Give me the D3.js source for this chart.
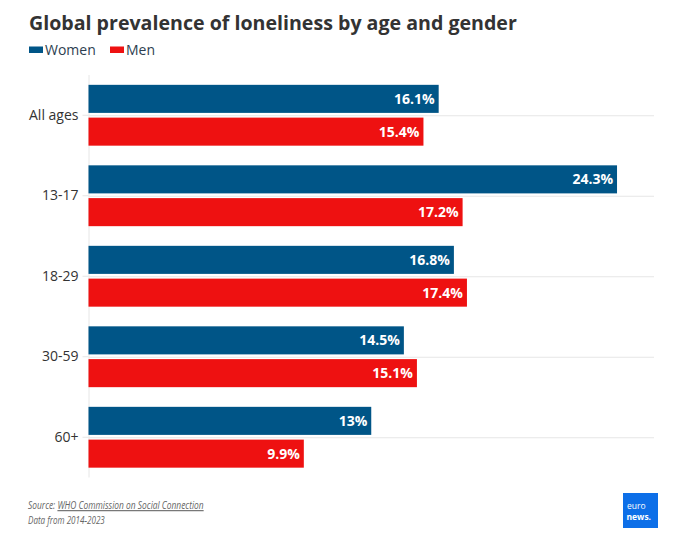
<!DOCTYPE html>
<html><head><meta charset="utf-8">
<script src="https://cdn.jsdelivr.net/npm/d3@7"></script>
<style>
html,body{margin:0;padding:0;background:#fff;}
svg{display:block;font-family:"Open Sans",sans-serif;}
</style></head><body>
<svg id="c" width="678" height="552"></svg>
<script>
const categories = ["All ages","13-17","18-29","30-59","60+"];
const seriesNames = ["Women","Men"];
const women = [16.1,24.3,16.8,14.5,13];
const men = [15.4,17.2,17.4,15.1,9.9];
const labelsWomen = ["16.1%","24.3%","16.8%","14.5%","13%"];
const labelsMen = ["15.4%","17.2%","17.4%","15.1%","9.9%"];
const colors = ["#005587","#ee1111"];

const svg = d3.select("#c");
const mLeft = 88.5, mRight = 654, mTop = 75, mBottom = 477.5;

svg.append("text").attr("x",29).attr("y",30).attr("font-size",19.6).attr("font-weight",700)
  .attr("fill","#333").text("Global prevalence of loneliness by age and gender");

// legend
const leg = svg.append("g");
[{n:seriesNames[0],x:29},{n:seriesNames[1],x:110}].forEach((d,i)=>{
  leg.append("rect").attr("x",d.x).attr("y",46.5).attr("width",14).attr("height",6.5).attr("fill",colors[i]);
  leg.append("text").attr("x",d.x+16).attr("y",55).attr("font-size",14).attr("fill","#2d3e50").text(d.n);
});

const x = d3.scaleLinear().domain([0,26]).range([mLeft,mRight]);
const y = d3.scaleBand().domain(categories).range([mTop,mBottom]);
const inner = d3.scaleBand().domain(seriesNames).range([0,y.bandwidth()]).paddingInner(0.144).paddingOuter(0.3);

// gridlines at category centers
svg.append("g").selectAll("line").data(categories).join("line")
  .attr("x1",mLeft).attr("x2",mRight)
  .attr("y1",d=>y(d)+y.bandwidth()/2+0.5).attr("y2",d=>y(d)+y.bandwidth()/2+0.5)
  .attr("stroke","#e6e6e6").attr("stroke-width",1);

// left axis
const ax = svg.append("g").attr("transform",`translate(${mLeft},0)`)
  .call(d3.axisLeft(y).tickSize(6).tickPadding(4));
ax.select(".domain").attr("stroke","#e6e6e6").attr("d",`M0.5,${mTop}V${mBottom}`);
ax.selectAll(".tick line").attr("stroke","#e6e6e6").attr("x1",-6).attr("x2",0);
ax.selectAll(".tick text").attr("font-size",14).attr("fill","#333").attr("font-family","'Open Sans',sans-serif");

const data = [];
categories.forEach((c,i)=>{
  data.push({c,s:seriesNames[0],v:women[i],l:labelsWomen[i],k:0});
  data.push({c,s:seriesNames[1],v:men[i],l:labelsMen[i],k:1});
});
const g = svg.append("g");
g.selectAll("rect").data(data).join("rect")
  .attr("x",x(0)).attr("y",d=>y(d.c)+inner(d.s))
  .attr("width",d=>x(d.v)-x(0)).attr("height",inner.bandwidth())
  .attr("fill",d=>colors[d.k]);
g.selectAll("text").data(data).join("text")
  .attr("x",d=>x(d.v)-4).attr("y",d=>y(d.c)+inner(d.s)+inner.bandwidth()/2)
  .attr("dy","0.36em").attr("text-anchor","end").attr("font-size",14).attr("font-weight",700)
  .attr("fill","#fff").text(d=>d.l);

// footer (condensed via horizontal scale)
const fg1 = svg.append("g").attr("transform","translate(28,0) scale(0.765,1)");
const f = fg1.append("text").attr("x",0).attr("y",509).attr("font-size",11).attr("font-style","italic").attr("fill","#666");
f.append("tspan").text("Source: ");
f.append("tspan").attr("text-decoration","underline").text("WHO Commission on Social Connection");
const fg2 = svg.append("g").attr("transform","translate(28,0) scale(0.735,1)");
fg2.append("text").attr("x",0).attr("y",524).attr("font-size",11).attr("font-style","italic").attr("fill","#666")
  .text("Data from 2014-2023");

// logo
const lg = svg.append("g").attr("transform","translate(623,493)");
lg.append("rect").attr("width",35).attr("height",35).attr("fill","#0d6fe8");
lg.append("text").attr("x",4).attr("y",16).attr("font-size",8.5).attr("fill","#fff").text("euro");
lg.append("text").attr("x",3.5).attr("y",27).attr("font-size",8.5).attr("font-weight",700).attr("fill","#fff").text("news.");
</script>
</body></html>
